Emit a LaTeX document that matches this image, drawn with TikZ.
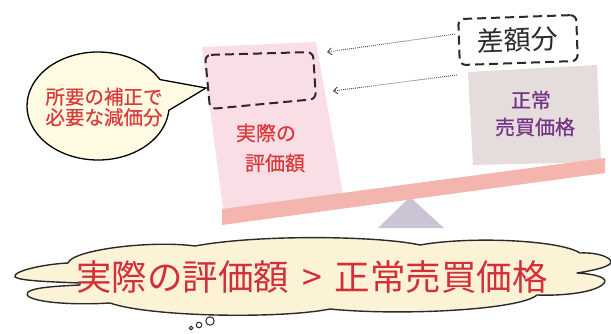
\documentclass[tikz,border=0pt]{standalone}
\usepackage{fontspec}
\newfontfamily\jp{Noto Sans CJK JP}
\newfontfamily\jpm[FakeBold=0.6]{Noto Sans CJK JP}
\usetikzlibrary{arrows.meta,shapes.callouts}
\definecolor{pinkbox}{HTML}{F9DEE5}
\definecolor{plank}{HTML}{F3B5AD}
\definecolor{tri}{HTML}{CBC4D4}
\definecolor{graybox}{HTML}{E5DDDB}
\definecolor{bubblefill}{HTML}{FFFBE2}
\definecolor{cloudfill}{HTML}{FCF3D6}
\definecolor{redtxt}{HTML}{D93A3A}
\definecolor{cloudred}{HTML}{D42E38}
\definecolor{purpletxt}{HTML}{763489}
\definecolor{inkgray}{HTML}{2A2A2A}
\tikzset{
  dashline/.style={draw=inkgray, line width=2pt, dash pattern=on 9pt off 5pt},
  darrow/.style={draw=inkgray!85, line width=0.9pt, dash pattern=on 0.9pt off 1.1pt, -{Straight Barb[length=4pt,width=7pt,line width=0.9pt]}},
  lbl/.style={inner sep=0pt, align=center},
}
\begin{document}
\begin{tikzpicture}[x=1pt,y=-1pt]
\useasboundingbox (0,0) rectangle (611,333);

% fulcrum triangle
\fill[tri] (410,197) -- (444,228) -- (378,228) -- cycle;
% pink box (actual valuation)
\fill[pinkbox] (202,47) -- (316,42) -- (344,200) -- (224,216) -- cycle;
% gray box (normal price)
\fill[graybox] (468,72) -- (597,65) -- (601,162) -- (473,165) -- cycle;
% plank
\fill[plank] (222,209) -- (605,158) -- (605,173) -- (222,225) -- cycle;

% dashed gap inside the pink box
\draw[dashline, rounded corners=6pt] (205,55) -- (313,52) -- (316,99) -- (210,109) -- cycle;
\coordinate (gapW) at (206,88);

% texts on boxes
\node[lbl, text=redtxt, font=\jpm\fontsize{20}{24}\selectfont] (real1) at (266,133) {実際の};
\node[lbl, text=redtxt, font=\jpm\fontsize{20}{24}\selectfont] (real2) at (275,163) {評価額};
\node[lbl, text=purpletxt, font=\jpm\fontsize{20}{24}\selectfont] (norm1) at (531,100) {正常};
\node[lbl, text=purpletxt, font=\jpm\fontsize{20}{24}\selectfont] (norm2) at (535,127) {売買価格};

% difference box
\node[dashline, rounded corners=6pt, rotate=2, minimum width=118pt, minimum height=46pt, inner sep=0pt,
      text=inkgray, font=\jp\fontsize{27}{30}\selectfont] (sagaku) at (518,40) {差額分};

% dotted arrows
\coordinate (tip1) at (327,52);
\coordinate (start2) at (457,75);
\coordinate (tip2) at (333,91);
\draw[darrow] ([xshift=-3pt,yshift=8pt]sagaku.west) -- (tip1);
\draw[darrow] (start2) -- (tip2);

% speech bubble
\node[ellipse callout, draw=black, line width=1.3pt, fill=bubblefill,
      minimum width=142pt, minimum height=108pt, inner sep=0pt,
      callout absolute pointer={(gapW)}, callout pointer arc=34] (bubble) at (98,106) {};
\node[lbl, text=redtxt, font=\jpm\fontsize{19.5}{20.5}\selectfont] (bubtxt) at (104,107) {所要の補正で\\必要な減価分};

% cloud
\draw[fill=cloudfill, draw=inkgray, line width=1.4pt, line join=round]
  (68,263)
  .. controls (72,250) and (150,240) .. (195,246)
  .. controls (260,234) and (380,236) .. (420,245)
  .. controls (470,236) and (560,240) .. (580,253)
  .. controls (600,252) and (615,259) .. (610,264)
  .. controls (605,268) and (590,271) .. (577,273)
  .. controls (595,274) and (612,278) .. (602,285)
  .. controls (592,293) and (560,296) .. (537,295)
  .. controls (520,310) and (400,316) .. (330,309)
  .. controls (280,319) and (150,317) .. (110,303)
  .. controls (60,306) and (20,300) .. (28,292)
  .. controls (35,287) and (60,286) .. (80,285)
  -- (80,283)
  .. controls (55,282) and (20,281) .. (15,277)
  .. controls (12,271) and (45,264) .. (68,263) -- cycle;
\node[lbl, text=cloudred, font=\jp\fontsize{35.5}{40}\selectfont] (main) at (312,277) {実際の評価額\hspace{5pt} > \hspace{5pt}正常売買価格};

% thought dots
\draw[inkgray, line width=1pt] (191,328) circle[radius=1.8];
\draw[inkgray, line width=1pt] (199,325) circle[radius=2.8];
\draw[inkgray, line width=1pt] (210,321) circle[radius=4.2];
\end{tikzpicture}
\end{document}
